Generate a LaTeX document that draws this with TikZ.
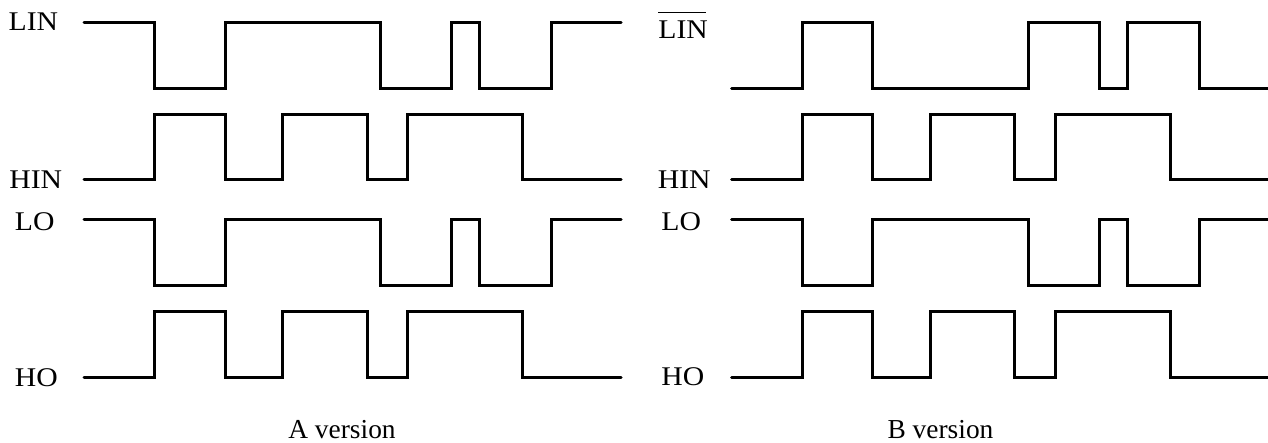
\documentclass[tikz,border=0pt]{standalone}
\usepackage{fontspec}
\setmainfont{Liberation Serif}
\newfontfamily\sigfont[FakeStretch=1.1]{Liberation Serif}
\usetikzlibrary{positioning}
\tikzset{wave/.style={line width=1.5pt,line cap=round,line join=miter},
	sig/.style={inner sep=0pt,font=\sigfont\fontsize{13.5}{16}\selectfont},
	caption/.style={inner sep=0pt,font=\fontsize{13.7}{16}\selectfont}}

\begin{document}
\begin{tikzpicture}[x=0.5pt,y=-0.5pt]
\useasboundingbox (0,0) rectangle (1268,443);

% A version
\node[sig,anchor=base west] (lin-a) at (8.3,30.7) {LIN};
\node[sig,anchor=base west] (hin-a) at (9,188.5) {HIN};
\node[sig,anchor=base west] (lo-a) at (14.5,230.7) {LO};
\node[sig,anchor=base west] (ho-a) at (14.5,386.7) {HO};
\node[caption,anchor=base] (cap-a) at (342,438.3) {A version};

\draw[wave] (84,22.7) -| (154.5,88.3) -| (225,22.7) -| (380.5,88.3) -| (451.5,22.7) -| (479.5,88.3) -| (551.5,22.7) -- (621,22.7);
\draw[wave] (84,180) -| (154.5,114.3) -| (225,180) -| (282.5,114.3) -| (367,180) -| (407.5,114.3) -| (522.5,180) -- (621,180);
\draw[wave] (84,220) -| (154.5,285) -| (225,220) -| (380.5,285) -| (451.5,220) -| (479.5,285) -| (551.5,220) -- (621,220);
\draw[wave] (84,377.3) -| (154.5,311) -| (225,377.3) -| (282.5,311) -| (367,377.3) -| (407.5,311) -| (522.5,377.3) -- (621,377.3);

% B version
\begin{scope}[xshift=323.75pt]
\node[sig,anchor=base west] (lin-b) at (10.5,39) {LIN};
\draw[line width=0.85pt] ([yshift=4.2pt]lin-b.north west) -- ([yshift=4.2pt,xshift=-1pt]lin-b.north east);
\node[sig,anchor=base west] (hin-b) at (10,188.5) {HIN};
\node[sig,anchor=base west] (lo-b) at (13.5,230.7) {LO};
\node[sig,anchor=base west] (ho-b) at (13.5,385.7) {HO};
\node[caption,anchor=base] (cap-b) at (293,438.3) {B version};

\draw[wave] (84,88.3) -| (154.5,22.7) -| (225,88.3) -| (380.5,22.7) -| (451.5,88.3) -| (479.5,22.7) -| (551.5,88.3) -- (621,88.3);
\draw[wave] (84,180) -| (154.5,114.3) -| (225,180) -| (282.5,114.3) -| (367,180) -| (407.5,114.3) -| (522.5,180) -- (621,180);
\draw[wave] (84,220) -| (154.5,285) -| (225,220) -| (380.5,285) -| (451.5,220) -| (479.5,285) -| (551.5,220) -- (621,220);
\draw[wave] (84,377.3) -| (154.5,311) -| (225,377.3) -| (282.5,311) -| (367,377.3) -| (407.5,311) -| (522.5,377.3) -- (621,377.3);
\end{scope}

\end{tikzpicture}
\end{document}
